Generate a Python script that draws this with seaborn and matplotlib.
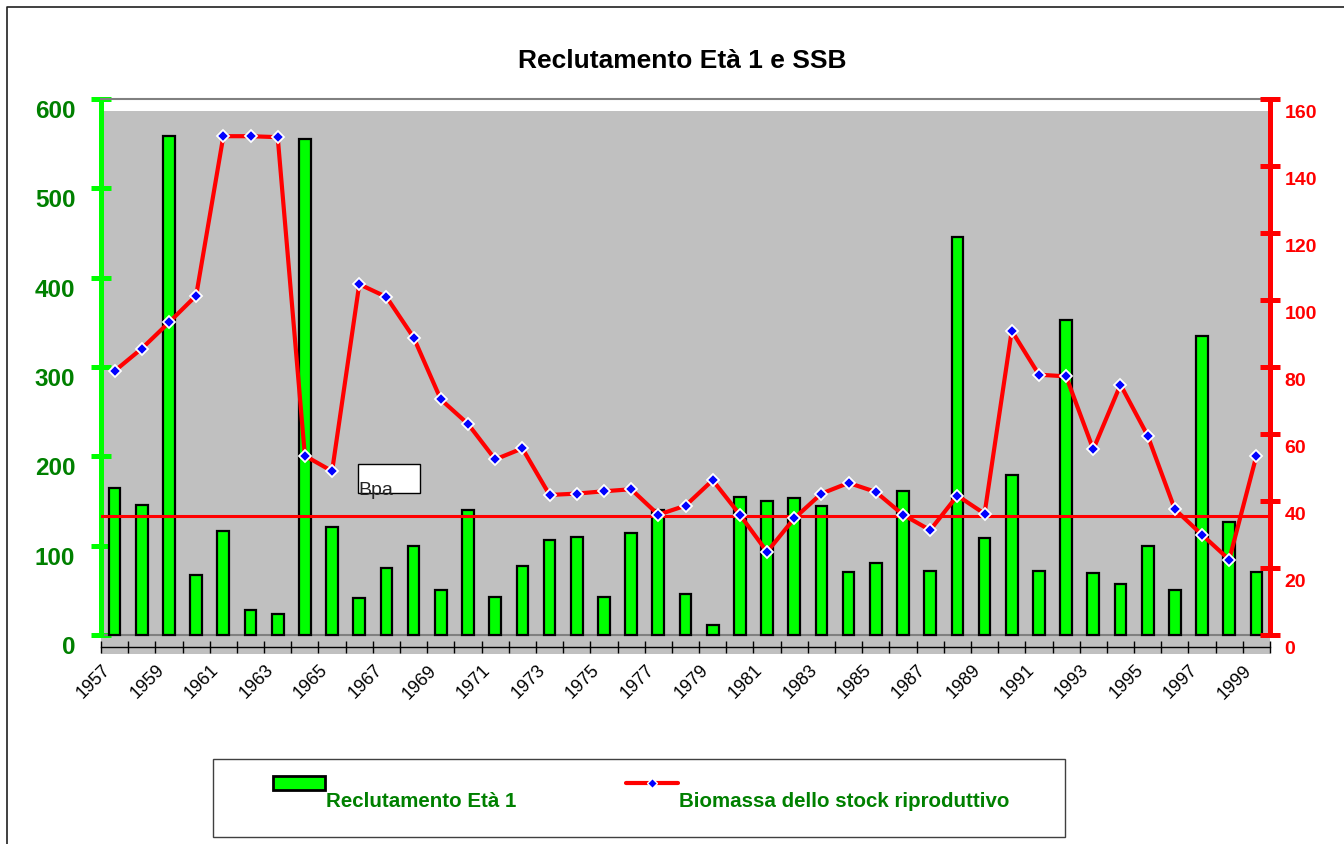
import numpy as np
import pandas as pd
import matplotlib
matplotlib.use('Agg')
import matplotlib.pyplot as plt
import matplotlib.transforms as mtransforms
from matplotlib.patches import Rectangle, Patch
from matplotlib.lines import Line2D
import seaborn as sns

# Dati: reclutamento (età 1) e biomassa dello stock riproduttivo (SSB)
anni = [str(a) for a in range(1957, 2000)]
reclutamento = [165, 145, 559, 67, 116, 28, 23, 555, 121, 41, 75, 100, 50,
                140, 42, 77, 106, 110, 42, 114, 140, 46, 11, 155, 150, 153,
                144, 71, 81, 161, 72, 446, 109, 179, 72, 353, 69, 57, 100,
                50, 335, 126, 70]
ssb = [78.8, 85.5, 93.3, 101.3, 148.9, 148.9, 148.6, 53.5, 48.9, 104.7,
       100.9, 88.8, 70.3, 63.0, 52.4, 55.7, 41.8, 42.2, 42.9, 43.5, 35.9,
       38.6, 46.2, 35.9, 24.8, 34.8, 42.2, 45.4, 42.7, 35.9, 31.3, 41.6,
       36.2, 90.8, 77.7, 77.2, 55.4, 74.7, 59.5, 37.5, 29.9, 22.5, 53.5]
bpa = 35.5
etichette = ['Reclutamento Età 1', 'Biomassa dello stock riproduttivo']

sns.set_theme(style='white')
plt.rcParams['font.family'] = ['Liberation Sans', 'DejaVu Sans']

df = pd.DataFrame({'Anno': anni, 'Reclutamento': reclutamento, 'SSB': ssb})
n = len(df)

GREEN = '#00ff00'
DKGREEN = '#008000'
RED = '#ff0000'

W, H = 1344, 845
fig = plt.figure(figsize=(W / 100, H / 100), dpi=100)
ax = fig.add_axes([101 / W, 1 - 655 / H, (1270 - 101) / W, (655 - 100) / H])
ax.set_facecolor('white')
ax2 = ax.twinx()

ymin = -21.3
ax.set_ylim(ymin, 600)
ax2.set_ylim(ymin * 160 / 600, 160)

# sfondo grigio dell'area del grafico
ax.axhspan(ymin, 586.6, color='#c0c0c0', lw=0, zorder=0)
ax.axhline(0, color='#808080', lw=1.5, zorder=1)

# --- barre: reclutamento ---
sns.barplot(data=df, x='Anno', y='Reclutamento', color=GREEN, saturation=1,
            width=0.43, edgecolor='black', linewidth=1.6, errorbar=None,
            ax=ax, zorder=2)

# --- linea: SSB ---
sns.lineplot(x=np.arange(n), y=df['SSB'], ax=ax2, color=RED, lw=3,
             marker='D', markersize=6.5, markerfacecolor='#0000ff',
             markeredgecolor='white', markeredgewidth=1.3, zorder=3)
ax2.axhline(bpa, color=RED, lw=2.2, zorder=2)

# etichetta Bpa
ax2.add_patch(Rectangle((8.95, 42.4), 2.28, 8.6, facecolor='white',
                        edgecolor='black', lw=1, zorder=2))
ax2.text(8.95, 42.1, 'Bpa', fontsize=14, va='baseline', ha='left', zorder=4)

ax.set_xlim(-0.5, n - 0.5)
ax.set_xlabel('')
ax.set_ylabel('')
ax2.set_xlabel('')
ax2.set_ylabel('')

# spines
ax.spines['top'].set_color('#808080')
ax.spines['top'].set_linewidth(1.5)
ax.spines['right'].set_visible(False)
ax.spines['left'].set_color(GREEN)
ax.spines['left'].set_linewidth(3.6)
ax.spines['left'].set_bounds(0, 600)
ax.spines['left'].set_capstyle('round')
ax.spines['bottom'].set_position(('data', -13.4))
ax.spines['bottom'].set_color('black')
ax.spines['bottom'].set_linewidth(1)
for s in ['left', 'top', 'bottom']:
    ax2.spines[s].set_visible(False)
ax2.spines['right'].set_color(RED)
ax2.spines['right'].set_linewidth(3.6)
ax2.spines['right'].set_bounds(0, 160)
ax2.spines['right'].set_capstyle('round')

# asse y sinistro
ax.set_yticks(range(0, 601, 100))
ax.tick_params(axis='y', direction='inout', length=15, width=3.6, color=GREEN,
               labelcolor=DKGREEN, labelsize=17.5, pad=11)
for lbl in ax.get_yticklabels():
    lbl.set_fontweight('bold')
    lbl.set_va('top')

# asse y destro
ax2.set_yticks(range(0, 161, 20))
ax2.tick_params(axis='y', direction='inout', length=15, width=3.6, color=RED,
                labelcolor=RED, labelsize=14, pad=3)
down = mtransforms.ScaledTranslation(0, -0.05, fig.dpi_scale_trans)
for lbl in ax2.get_yticklabels():
    lbl.set_fontweight('bold')
    lbl.set_va('top')
    lbl.set_transform(lbl.get_transform() + down)

# asse x
ax.set_xticks(np.arange(0, n, 2), labels=anni[::2])
ax.set_xticks(np.arange(-0.5, n, 1), minor=True)
ax.tick_params(axis='x', which='major', length=0, labelsize=13, pad=10,
               labelcolor='black')
ax.tick_params(axis='x', which='minor', direction='inout', length=8.6,
               width=1, color='black', bottom=True)
shift = mtransforms.ScaledTranslation(-0.13, 0, fig.dpi_scale_trans)
for lbl in ax.get_xticklabels():
    lbl.set_rotation(45)
    lbl.set_ha('right')
    lbl.set_va('top')
    lbl.set_rotation_mode('anchor')
    lbl.set_transform(lbl.get_transform() + shift)

# titolo
fig.text(682 / W, 1 - 61 / H, 'Reclutamento Età 1 e SSB', ha='center',
         va='center', fontsize=19, fontweight='bold', color='black')

# legenda
handles = [Patch(facecolor=GREEN, edgecolor='black', linewidth=2),
           Line2D([], [], color=RED, lw=3, marker='D', markersize=5,
                  markerfacecolor='#0000ff', markeredgecolor='white')]
leg = fig.legend(handles, etichette, loc='upper left',
                 bbox_to_anchor=(273 / W, 1 - 776 / H), ncol=2, frameon=False,
                 borderpad=0, borderaxespad=0, handlelength=2.52,
                 handleheight=0.68, handletextpad=0.05, columnspacing=5.35,
                 prop={'weight': 'bold', 'size': 14.8})
for t in leg.get_texts():
    t.set_color(DKGREEN)
    t.set_y(-16)
fig.add_artist(Rectangle((213 / W, 1 - 838 / H), 852 / W, 78 / H,
                         transform=fig.transFigure, fill=False,
                         edgecolor='#404040', lw=1))

# cornice esterna
fig.add_artist(Line2D([7 / W, 7 / W, 1], [0, 1 - 8 / H, 1 - 8 / H],
                      transform=fig.transFigure, color='#202020', lw=1.2))

fig.savefig('out.png', dpi=100)
